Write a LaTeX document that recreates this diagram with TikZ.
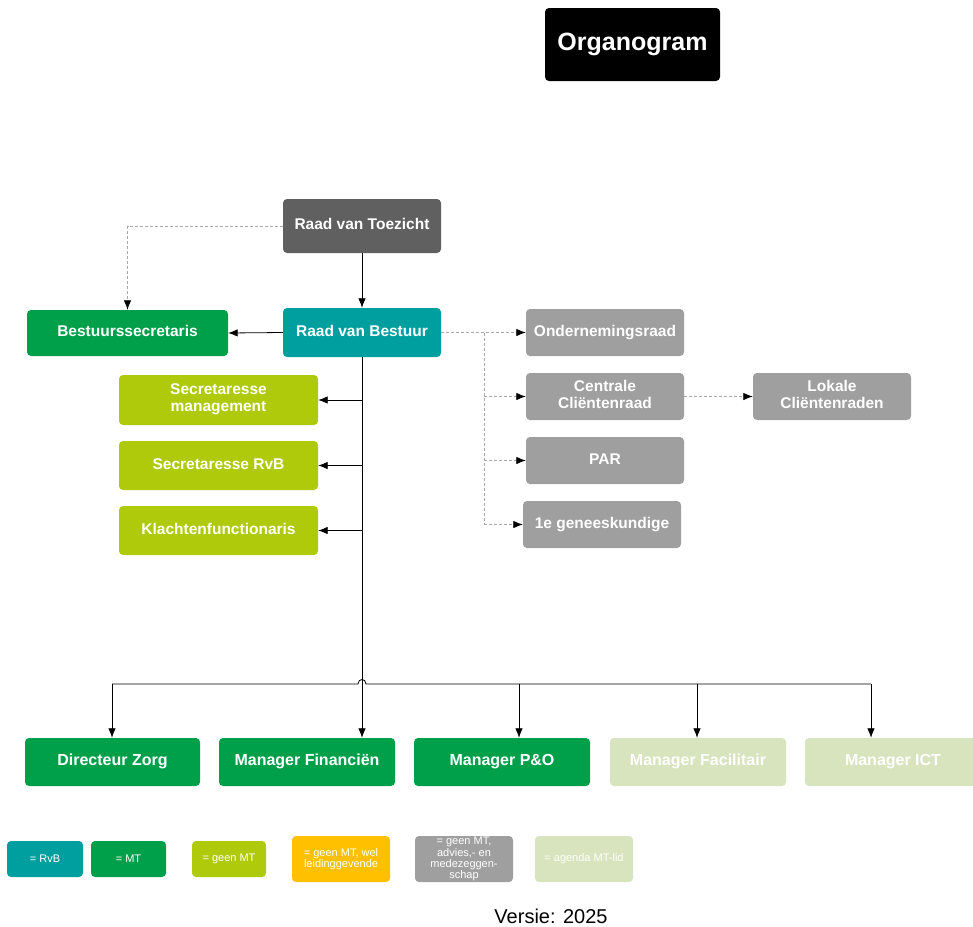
\documentclass[tikz,border=0pt]{standalone}
\usepackage{fontspec}
\setmainfont{Liberation Sans}
\usetikzlibrary{arrows.meta}
\definecolor{rvtgray}{HTML}{606060}
\definecolor{rvbteal}{HTML}{009F9F}
\definecolor{mtgreen}{HTML}{00A04B}
\definecolor{limegr}{HTML}{AFCA0B}
\definecolor{advgray}{HTML}{9F9F9F}
\definecolor{lightgr}{HTML}{D7E4BD}
\definecolor{orangey}{HTML}{FFC000}
\definecolor{dashgray}{HTML}{A8A8A8}
\newcommand\boxstrut{\rule[-0.25em]{0pt}{0.97em}}
\tikzset{
  box/.style={rounded corners=4pt, draw=none, text=white, align=center, inner sep=0pt,
    font=\bfseries\fontsize{15.5}{17}\selectfont,
    execute at begin node=\boxstrut, execute at end node=\boxstrut},
  botbox/.style={box, font=\bfseries\fontsize{16}{18}\selectfont},
  legbox/.style={rounded corners=4pt, draw=none, text=white, align=center, inner sep=0pt,
    font=\fontsize{11}{11.3}\selectfont},
  arr/.style={-{Latex[length=9.5pt,width=7.5pt,black]}},
  solidline/.style={draw=black, line width=0.8pt},
  dashline/.style={draw=dashgray, line width=0.8pt, dash pattern=on 3pt off 2pt},
}
\begin{document}
\begin{tikzpicture}[x=1pt,y=-1pt]
\useasboundingbox (0,0) rectangle (973,926);
\fill[white] (0,0) rectangle (973,926);

% title
\node[box, fill=black, minimum width=175pt, minimum height=73pt,
  font=\bfseries\fontsize{25}{28}\selectfont] (org) at (632.5,44.5) {Organogram};

% top
\node[box, fill=rvtgray, minimum width=158pt, minimum height=54pt] (rvt) at (362,226) {Raad van Toezicht};
\node[box, fill=rvbteal, minimum width=158pt, minimum height=49pt] (rvb) at (362,332.5) {Raad van Bestuur};
\node[box, fill=mtgreen, minimum width=201pt, minimum height=46pt] (bs) at (127.5,333) {Bestuurssecretaris};

% lime
\node[box, fill=limegr, minimum width=199pt, minimum height=50pt] (sm) at (218.5,400) {Secretaresse\\management};
\node[box, fill=limegr, minimum width=199pt, minimum height=49pt] (srvb) at (218.5,465.5) {Secretaresse RvB};
\node[box, fill=limegr, minimum width=199pt, minimum height=49pt] (kf) at (218.5,530.5) {Klachtenfunctionaris};

% gray
\node[box, fill=advgray, minimum width=158pt, minimum height=47pt] (or) at (605,332.5) {Ondernemingsraad};
\node[box, fill=advgray, minimum width=158pt, minimum height=47pt] (ccr) at (605,396.5) {Centrale\\Cliëntenraad};
\node[box, fill=advgray, minimum width=158pt, minimum height=47pt] (lcr) at (832,396.5) {Lokale\\Cliëntenraden};
\node[box, fill=advgray, minimum width=158pt, minimum height=47pt] (par) at (605,460.5) {PAR};
\node[box, fill=advgray, minimum width=158pt, minimum height=47pt] (geg) at (602,524.5) {1e geneeskundige};

% bottom row
\node[botbox, fill=mtgreen, minimum width=175pt, minimum height=48pt] (dz) at (112.5,762) {Directeur Zorg};
\node[botbox, fill=mtgreen, minimum width=176pt, minimum height=48pt] (mf) at (307,762) {Manager Financiën};
\node[botbox, fill=mtgreen, minimum width=176pt, minimum height=48pt] (mpo) at (502,762) {Manager P\&O};
\node[botbox, fill=lightgr, minimum width=176pt, minimum height=48pt] (mfac) at (698,762) {Manager Facilitair};
\node[botbox, fill=lightgr, minimum width=176pt, minimum height=48pt] (mict) at (893,762) {Manager ICT};

% legend
\node[legbox, fill=rvbteal, minimum width=76pt, minimum height=36pt] (l1) at (45,859) {= RvB};
\node[legbox, fill=mtgreen, minimum width=75pt, minimum height=36pt] (l2) at (128.5,859) {= MT};
\node[legbox, fill=limegr, minimum width=74pt, minimum height=36pt] (l3) at (229,859) {= geen MT};
\node[legbox, fill=orangey, minimum width=98pt, minimum height=46pt] (l4) at (341,859) {= geen MT, wel\\leidinggevende};
\node[legbox, fill=advgray, minimum width=98pt, minimum height=46pt] (l5) at (464,859) {= geen MT,\\advies,- en\\medezeggen-\\schap};
\node[legbox, fill=lightgr, minimum width=98pt, minimum height=46pt] (l6) at (584,859) {= agenda MT-lid};

\node[font=\fontsize{20}{23}\selectfont, inner sep=0pt] (versie) at (551,916) {Versie: 2025};

% connectors: solid
\draw[solidline, arr] (rvt.south) -- (rvb.north);
\draw[solidline, arr] (rvb.west) -- (bs.east);
\draw[solidline, arr] (rvb.south) -- (rvb.south |- mf.north);
\draw[solidline, arr] (rvb.south |- sm.east) -- (sm.east);
\draw[solidline, arr] (rvb.south |- srvb.east) -- (srvb.east);
\draw[solidline, arr] (rvb.south |- kf.east) -- (kf.east);
\coordinate (bl) at (112,684);
\coordinate (br) at (871,684);
\coordinate (bpo) at (519,684);
\coordinate (bfac) at (697,684);
\draw[solidline] (bl) -- (358,684) .. controls (358,678) and (366,678) .. (366,684) -- (br);
\draw[solidline, arr] (bl) -- (bl |- dz.north);
\draw[solidline, arr] (bpo) -- (bpo |- mpo.north);
\draw[solidline, arr] (bfac) -- (bfac |- mfac.north);
\draw[solidline, arr] (br) -- (br |- mict.north);

% connectors: dashed
\draw[dashline, arr] (rvt.west) -| (bs.north);
\draw[dashline, arr] (rvb.east) -- (or.west);
\coordinate (dj) at (484,332.5);
\draw[dashline] (dj) -- (dj |- geg.west);
\draw[dashline, arr] (dj |- ccr.west) -- (ccr.west);
\draw[dashline, arr] (dj |- par.west) -- (par.west);
\draw[dashline, arr] (dj |- geg.west) -- (geg.west);
\draw[dashline, arr] (ccr.east) -- (lcr.west);
\end{tikzpicture}
\end{document}
